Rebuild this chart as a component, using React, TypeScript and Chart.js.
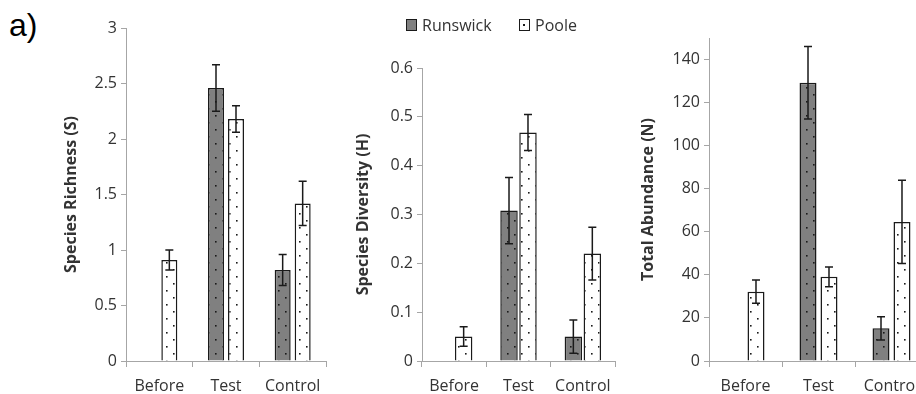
import React, { useEffect, useRef } from 'react';
import { Chart, registerables } from 'chart.js';

Chart.register(...registerables);

// ---------- data ----------
const categories = ['Before', 'Test', 'Control'];
const seriesNames = ['Runswick', 'Poole'];

const richnessRunswick = [null, 2.46, 0.82];
const richnessRunswickErr = [null, 0.21, 0.14];
const richnessPoole = [0.91, 2.18, 1.42];
const richnessPooleErr = [0.09, 0.12, 0.2];
const richnessTicks = [0, 0.5, 1, 1.5, 2, 2.5, 3];

const diversityRunswick = [null, 0.308, 0.05];
const diversityRunswickErr = [null, 0.068, 0.034];
const diversityPoole = [0.05, 0.468, 0.22];
const diversityPooleErr = [0.02, 0.037, 0.054];
const diversityTicks = [0, 0.1, 0.2, 0.3, 0.4, 0.5, 0.6];

const abundanceRunswick = [null, 129.2, 15.2];
const abundanceRunswickErr = [null, 16.8, 5.4];
const abundancePoole = [32.2, 39.1, 64.6];
const abundancePooleErr = [5.4, 4.6, 19.3];
const abundanceTicks = [0, 20, 40, 60, 80, 100, 120, 140];

// ---------- styling ----------
const FONT = '"Open Sans", "DejaVu Sans", sans-serif';
const TEXT = '#333333';
const AXIS = '#a6a6a6';
const DARK = '#808080';

function makePattern(bg: string): CanvasPattern | string {
  const c = document.createElement('canvas');
  c.width = 14;
  c.height = 14;
  const g = c.getContext('2d');
  if (!g) return bg;
  g.fillStyle = bg;
  g.fillRect(0, 0, 14, 14);
  g.fillStyle = '#1a1a1a';
  g.fillRect(3, 3, 1.6, 1.6);
  g.fillRect(10, 10, 1.6, 1.6);
  return g.createPattern(c, 'repeat') || bg;
}

const errorBarPlugin = {
  id: 'errorBars',
  afterDatasetsDraw(chart: any, _args: any, opts: any) {
    const errs = opts.errors as (number | null)[][];
    if (!errs) return;
    const ctx = chart.ctx;
    const y = chart.scales.y;
    ctx.save();
    ctx.strokeStyle = '#1a1a1a';
    ctx.lineWidth = 1.5;
    chart.data.datasets.forEach((ds: any, di: number) => {
      const meta = chart.getDatasetMeta(di);
      meta.data.forEach((bar: any, i: number) => {
        const v = ds.data[i];
        const e = errs[di] ? errs[di][i] : null;
        if (v == null || e == null) return;
        const x = bar.x;
        const top = y.getPixelForValue(v + e);
        const bot = y.getPixelForValue(v - e);
        ctx.beginPath();
        ctx.moveTo(x, top);
        ctx.lineTo(x, bot);
        ctx.moveTo(x - 4, top);
        ctx.lineTo(x + 4, top);
        ctx.moveTo(x - 4, bot);
        ctx.lineTo(x + 4, bot);
        ctx.stroke();
      });
    });
    ctx.restore();
  },
};

type PanelProps = {
  left: number;
  width: number;
  axisWidth: number;
  padTop: number;
  yMax: number;
  title: string;
  catPct: number;
  barPct: number;
  runswick: (number | null)[];
  runswickErr: (number | null)[];
  poole: (number | null)[];
  pooleErr: (number | null)[];
  ticks: number[];
};

function Panel(p: PanelProps) {
  const ref = useRef<HTMLCanvasElement | null>(null);
  useEffect(() => {
    if (!ref.current) return;
    const darkPat = makePattern(DARK);
    const whitePat = makePattern('#ffffff');
    const chart = new Chart(ref.current, {
      type: 'bar',
      data: {
        labels: categories,
        datasets: [
          {
            label: seriesNames[0],
            data: p.runswick as any,
            backgroundColor: darkPat as any,
            borderColor: '#1a1a1a',
            borderWidth: 1.5,
            categoryPercentage: p.catPct,
            barPercentage: p.barPct,
          },
          {
            label: seriesNames[1],
            data: p.poole as any,
            backgroundColor: whitePat as any,
            borderColor: '#1a1a1a',
            borderWidth: 1.5,
            categoryPercentage: p.catPct,
            barPercentage: p.barPct,
          },
        ],
      },
      options: {
        animation: false,
        responsive: false,
        maintainAspectRatio: false,
        layout: { padding: { top: p.padTop, right: 12, left: 0, bottom: 0 } },
        plugins: {
          legend: { display: false },
          tooltip: { enabled: false },
          errorBars: { errors: [p.runswickErr, p.pooleErr] },
        } as any,
        scales: {
          x: {
            grid: { drawOnChartArea: false, tickLength: 6, color: AXIS, offset: true },
            border: { color: AXIS, width: 1 },
            ticks: { color: TEXT, font: { family: FONT, size: 16 }, padding: 10, maxRotation: 0 },
            afterFit: (s: any) => {
              s.height = 33;
            },
          },
          y: {
            min: 0,
            max: p.yMax,
            grid: { drawOnChartArea: false, tickLength: 5, color: AXIS },
            border: { color: AXIS, width: 1 },
            ticks: {
              color: TEXT,
              font: { family: FONT, size: 16 },
              padding: 4,
              callback: (v: any) => String(v),
            },
            afterBuildTicks: (s: any) => {
              s.ticks = p.ticks.map((v) => ({ value: v }));
            },
            afterFit: (s: any) => {
              s.width = p.axisWidth;
            },
            title: {
              display: true,
              text: p.title,
              color: TEXT,
              font: { family: FONT, size: 16, weight: 'bold' },
              padding: { top: 4, bottom: 4 },
            },
          },
        },
      },
      plugins: [errorBarPlugin as any],
    });
    return () => chart.destroy();
  }, []);
  return (
    <canvas
      ref={ref}
      width={p.width}
      height={394}
      style={{ position: 'absolute', left: p.left, top: 0, width: p.width, height: 394, display: 'block' }}
    />
  );
}

export default function App() {
  return (
    <div
      style={{
        position: 'fixed',
        left: 0,
        top: 0,
        width: 916,
        height: 394,
        overflow: 'hidden',
        background: '#ffffff',
      }}
    >
      <div
        style={{
          position: 'absolute',
          left: 9,
          top: 8.5,
          fontFamily: '"Liberation Sans", Arial, sans-serif',
          fontSize: 32,
          lineHeight: '32px',
          color: '#000',
        }}
      >
        a)
      </div>
      <Panel
        left={58}
        width={280}
        axisWidth={68}
        padTop={28}
        yMax={3}
        title="Species Richness (S)"
        catPct={0.6}
        barPct={0.8}
        runswick={richnessRunswick}
        runswickErr={richnessRunswickErr}
        poole={richnessPoole}
        pooleErr={richnessPooleErr}
        ticks={richnessTicks}
      />
      <Panel
        left={350}
        width={277}
        axisWidth={72}
        padTop={68}
        yMax={0.6}
        title="Species Diversity (H)"
        catPct={0.59}
        barPct={0.92}
        runswick={diversityRunswick}
        runswickErr={diversityRunswickErr}
        poole={diversityPoole}
        pooleErr={diversityPooleErr}
        ticks={diversityTicks}
      />
      <Panel
        left={635}
        width={305}
        axisWidth={74}
        padTop={38}
        yMax={150}
        title="Total Abundance (N)"
        catPct={0.575}
        barPct={0.81}
        runswick={abundanceRunswick}
        runswickErr={abundanceRunswickErr}
        poole={abundancePoole}
        pooleErr={abundancePooleErr}
        ticks={abundanceTicks}
      />
      {/* legend */}
      <div
        style={{
          position: 'absolute',
          left: 406,
          top: 19,
          width: 11,
          height: 12,
          boxSizing: 'border-box',
          border: '1.5px solid #1a1a1a',
          background: DARK,
        }}
      />
      <div
        style={{
          position: 'absolute',
          left: 422,
          top: 15,
          fontFamily: FONT,
          fontSize: 16,
          lineHeight: '20px',
          color: TEXT,
        }}
      >
        {seriesNames[0]}
      </div>
      <div
        style={{
          position: 'absolute',
          left: 519,
          top: 19,
          width: 11,
          height: 12,
          boxSizing: 'border-box',
          border: '1.5px solid #1a1a1a',
          background: '#ffffff',
        }}
      >
        <div
          style={{ position: 'absolute', left: 3, top: 3.5, width: 2, height: 2, background: '#1a1a1a' }}
        />
      </div>
      <div
        style={{
          position: 'absolute',
          left: 535,
          top: 15,
          fontFamily: FONT,
          fontSize: 16,
          lineHeight: '20px',
          color: TEXT,
        }}
      >
        {seriesNames[1]}
      </div>
    </div>
  );
}
